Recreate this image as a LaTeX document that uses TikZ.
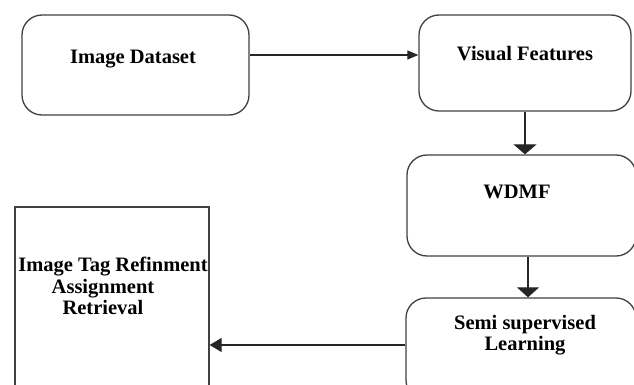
\documentclass[tikz,border=0pt]{standalone}
\usepackage{fontspec}
\setmainfont{Liberation Serif}
\usetikzlibrary{arrows.meta}
\tikzset{>=Triangle}
\tikzset{
  box/.style={draw=black!75, line width=1.3pt, rounded corners=20pt, minimum width=#1, inner sep=0pt},
  sqbox/.style={draw=black!75, line width=1.3pt, inner sep=0pt},
  lbl/.style={font=\fontsize{20.5}{21.5}\selectfont\bfseries, align=center, inner sep=0pt},
  arr/.style={->, draw=black!85, line width=1.2pt}
}

\begin{document}
\begin{tikzpicture}[x=1pt,y=-1pt]
\useasboundingbox (0,0) rectangle (634,385);
\clip (0,0) rectangle (634,385);
\node[box=227pt, minimum height=100pt] (dataset) at (135.5,65) {};
\node[box=212pt, minimum height=96pt] (visual) at (525,63) {};
\node[box=229pt, minimum height=101pt] (wdmf) at (521.5,205.5) {};
\node[box=230pt, minimum height=102pt] (semi) at (521,349) {};
\node[sqbox, minimum width=194pt, minimum height=220pt] (itr) at (112,317) {};
\node[lbl] (dstxt) at (133,59) {Image Dataset};
\node[lbl] (vftxt) at (525,54) {Visual Features};
\node[lbl] (wdtxt) at (517,192) {WDMF};
\node[lbl] (sstxt) at (525,335) {Semi supervised\\Learning};
\node[lbl] (ittxt) at (113,286) {Image Tag Refinment\\Assignment\hspace{20pt}\null\\Retrieval\hspace{20pt}\null};
\draw[arr, -{Triangle[length=11pt, width=9pt]}] ([yshift=10pt]dataset.east) -- ([yshift=10pt]dataset.east -| visual.west);
\draw[arr, -{Triangle[length=10pt, width=23pt]}] (visual.south) -- (visual.south |- wdmf.north);
\draw[arr, -{Triangle[length=10pt, width=22pt]}] ([xshift=6.5pt]wdmf.south) -- ([xshift=6.5pt]wdmf.south |- semi.north);
\draw[arr, -{Triangle[length=12pt, width=14pt]}] ([yshift=4pt]semi.west) -- ([yshift=4pt]semi.west -| itr.east);
\end{tikzpicture}
\end{document}
